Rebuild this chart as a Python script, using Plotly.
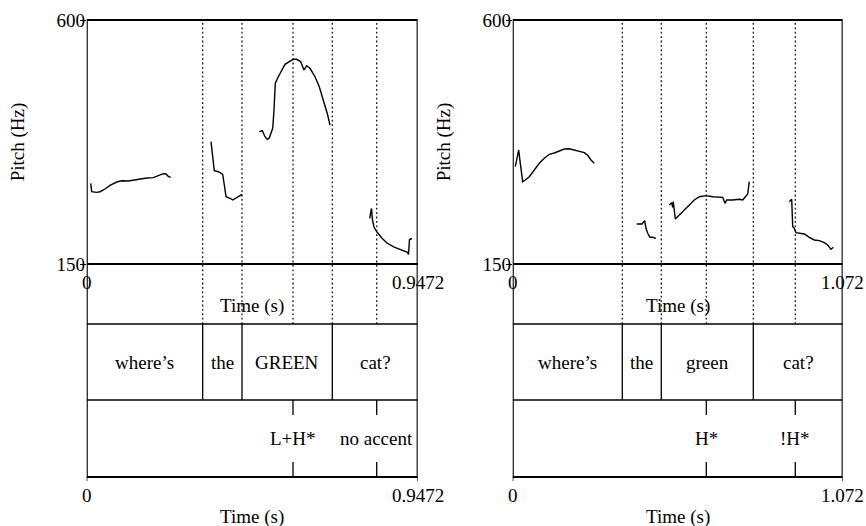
import plotly.graph_objects as go

W, H = 866, 526
FONT = "Liberation Serif"

# ---------------- Left panel (L+H* on GREEN) ----------------
L_duration = 0.9472
L_word_bounds = [0.3319, 0.4444, 0.7028]
L_words = ["where’s", "the", "GREEN", "cat?"]
L_tone_times = [0.5904, 0.8299]
L_tones = ["L+H*", "no accent"]

L1_t = [0.0115, 0.0143, 0.0286, 0.0381, 0.0524, 0.0667, 0.0858, 0.1002, 0.1190, 0.1334,
        0.1525, 0.1717, 0.1906, 0.2049, 0.2192, 0.2269, 0.2335, 0.2404]
L1_f = [298.8, 283.3, 282.2, 283.3, 288.3, 295.1, 301.2, 303.6, 303.1, 304.9,
        307.3, 308.6, 309.2, 312.9, 316.5, 316.0, 311.7, 309.9]
L2_t = [0.3557, 0.3651, 0.3766, 0.3892, 0.3938, 0.3986, 0.4101, 0.4178, 0.4292, 0.4387, 0.4444]
L2_f = [375.6, 322.1, 320.2, 315.4, 295.7, 274.1, 271.2, 268.0, 272.3, 275.4, 278.5]
L3_t = [0.4939, 0.5025, 0.5102, 0.5168, 0.5225, 0.5323, 0.5360, 0.5397, 0.5483, 0.5580,
        0.5675, 0.5798, 0.5912, 0.6009, 0.6124, 0.6218, 0.6296, 0.6390, 0.6533, 0.6656,
        0.6771, 0.6896, 0.6962]
L3_f = [394.0, 395.8, 384.8, 380.0, 382.4, 400.3, 434.0, 483.3, 495.4, 507.8,
        518.3, 523.1, 527.5, 527.5, 523.1, 507.8, 515.7, 510.9, 495.4, 477.0,
        452.5, 424.8, 406.4]
L4_t = [0.8098, 0.8150, 0.8178, 0.8221, 0.8307, 0.8450, 0.8593, 0.8785, 0.8966, 0.9108,
        0.9180, 0.9209, 0.9237, 0.9309]
L4_f = [234.3, 252.4, 231.1, 218.2, 209.0, 197.4, 188.7, 181.4, 177.1, 174.0,
        171.6, 167.5, 195.2, 197.0]

# ---------------- Right panel (H* on green) ----------------
R_duration = 1.072
R_word_bounds = [0.3560, 0.4827, 0.7816]
R_words = ["where’s", "the", "green", "cat?"]
R_tone_times = [0.6289, 0.9180]
R_tones = ["H*", "!H*"]

R1_t = [0.0084, 0.0195, 0.0247, 0.0325, 0.0409, 0.0539, 0.0702, 0.0864, 0.1027, 0.1189,
        0.1351, 0.1514, 0.1676, 0.1839, 0.2001, 0.2164, 0.2326, 0.2436, 0.2544, 0.2651]
R1_f = [329.4, 360.3, 335.7, 301.8, 304.9, 311.0, 323.4, 335.7, 344.9, 352.3,
        354.7, 359.0, 362.1, 362.6, 360.3, 357.1, 355.3, 350.5, 341.8, 335.7]
R2_t = [0.4028, 0.4200, 0.4288, 0.4330, 0.4385, 0.4460, 0.4548, 0.4655]
R2_f = [223.8, 223.8, 229.9, 215.8, 206.6, 199.2, 199.2, 197.4]
R3_t = [0.5087, 0.5165, 0.5198, 0.5217, 0.5282, 0.5412, 0.5574, 0.5737, 0.5899, 0.6062,
        0.6279, 0.6497, 0.6822, 0.6897, 0.6952, 0.7147, 0.7361, 0.7472, 0.7556, 0.7634,
        0.7686]
R3_f = [258.8, 263.1, 254.6, 264.9, 233.0, 240.4, 249.6, 258.8, 268.0, 274.1,
        276.0, 274.1, 273.0, 261.9, 268.0, 268.0, 269.3, 268.0, 274.1, 279.1,
        301.8]
R4_t = [0.8985, 0.9063, 0.9096, 0.9148, 0.9203, 0.9310, 0.9473, 0.9635, 0.9798, 0.9960,
        1.0122, 1.0233, 1.0340, 1.0415]
R4_f = [264.9, 269.3, 218.8, 215.8, 207.7, 206.6, 205.3, 199.2, 194.3, 193.0,
        189.3, 185.0, 177.1, 180.8]

PITCH_MIN, PITCH_MAX = 150, 600
TICK_LABELS_Y = ["150", "600"]


def py(p):
    """window pixel row -> paper fraction"""
    return 1 - p / H


def px(p):
    """window pixel column -> paper fraction"""
    return p / W


fig = go.Figure()
shapes = []
annotations = []

panels = [
    dict(xa="x", ya="y", T=L_duration, T_label="0.9472",
         bounds=L_word_bounds, words=L_words, tt=L_tone_times, tones=L_tones,
         segs=[(L1_t, L1_f), (L2_t, L2_f), (L3_t, L3_f), (L4_t, L4_f)], title_x=18.3),
    dict(xa="x2", ya="y2", T=R_duration, T_label="1.072",
         bounds=R_word_bounds, words=R_words, tt=R_tone_times, tones=R_tones,
         segs=[(R1_t, R1_f), (R2_t, R2_f), (R3_t, R3_f), (R4_t, R4_f)], title_x=444.3),
]

Y_TOP, Y_PITCH_BOT, Y_T1_TOP, Y_T2_TOP, Y_BOT = 20, 264, 324, 400, 477
BLACK = "black"

for p in panels:
    xa, T = p["xa"], p["T"]
    for t, f in p["segs"]:
        fig.add_trace(go.Scatter(x=t, y=f, mode="lines", xaxis=xa, yaxis=p["ya"],
                                 line=dict(color=BLACK, width=1.4), hoverinfo="skip",
                                 showlegend=False))
    xr = xa
    # dotted lines for boundaries and points
    for t in list(p["bounds"]) + list(p["tt"]):
        shapes.append(dict(type="line", xref=xr, yref="paper", x0=t, x1=t,
                           y0=py(Y_T1_TOP), y1=py(Y_TOP),
                           line=dict(color=BLACK, width=1.2, dash="1.8px,2.6px")))
    # interval boundaries in tier 1
    for t in p["bounds"]:
        shapes.append(dict(type="line", xref=xr, yref="paper", x0=t, x1=t,
                           y0=py(Y_T2_TOP), y1=py(Y_T1_TOP),
                           line=dict(color=BLACK, width=1.3)))
    # point ticks in tier 2
    for t in p["tt"]:
        shapes.append(dict(type="line", xref=xr, yref="paper", x0=t, x1=t,
                           y0=py(415), y1=py(Y_T2_TOP), line=dict(color=BLACK, width=1.3)))
        shapes.append(dict(type="line", xref=xr, yref="paper", x0=t, x1=t,
                           y0=py(Y_BOT), y1=py(462), line=dict(color=BLACK, width=1.3)))
    # horizontal lines
    for yy, w in [(Y_PITCH_BOT, 2.2), (Y_T1_TOP, 1.3), (Y_T2_TOP, 1.3)]:
        shapes.append(dict(type="line", xref=xr, yref="paper", x0=0, x1=T,
                           y0=py(yy), y1=py(yy), line=dict(color=BLACK, width=w)))
    # outer box
    shapes.append(dict(type="rect", xref=xr, yref="paper", x0=0, x1=T,
                       y0=py(Y_BOT), y1=py(Y_TOP), line=dict(color=BLACK, width=2.2)))
    # bottom ticks
    for t in [0, T]:
        shapes.append(dict(type="line", xref=xr, yref="paper", x0=t, x1=t,
                           y0=py(481), y1=py(Y_BOT), line=dict(color=BLACK, width=1.3)))
    # words
    edges = [0] + list(p["bounds"]) + [T]
    for i, w in enumerate(p["words"]):
        annotations.append(dict(xref=xr, yref="paper", x=(edges[i] + edges[i + 1]) / 2,
                                y=py(362), text=w, showarrow=False, yanchor="middle"))
    for t, tone in zip(p["tt"], p["tones"]):
        annotations.append(dict(xref=xr, yref="paper", x=t, y=py(438), text=tone,
                                showarrow=False, yanchor="middle"))
    # time tick labels and titles
    for yy in [282, 495]:
        annotations.append(dict(xref=xr, yref="paper", x=0, y=py(yy), text="0",
                                showarrow=False, yanchor="middle"))
        annotations.append(dict(xref=xr, yref="paper", x=T, y=py(yy), text=p["T_label"],
                                showarrow=False, yanchor="middle"))
    for yy in [306, 517]:
        annotations.append(dict(xref=xr, yref="paper", x=T / 2, y=py(yy), text="Time (s)",
                                showarrow=False, yanchor="middle"))
    annotations.append(dict(xref="paper", yref="paper", x=px(p["title_x"]),
                            y=py((Y_TOP + Y_PITCH_BOT) / 2), text="Pitch (Hz)",
                            textangle=-90, showarrow=False, xanchor="center",
                            yanchor="middle"))

axis_common = dict(showgrid=False, zeroline=False, showline=False)
pitch_dom = [py(Y_PITCH_BOT), py(Y_TOP)]
yaxis_common = dict(domain=pitch_dom, range=[PITCH_MIN, PITCH_MAX],
                    tickvals=[PITCH_MIN, PITCH_MAX], ticktext=TICK_LABELS_Y,
                    ticks="outside", ticklen=6, tickwidth=1.3, tickcolor=BLACK,
                    ticklabelstandoff=-9, automargin=False, **axis_common)
fig.update_layout(
    width=W, height=H,
    margin=dict(l=0, r=0, t=0, b=0),
    paper_bgcolor="white", plot_bgcolor="white",
    font=dict(family=FONT, size=19, color=BLACK),
    showlegend=False,
    xaxis=dict(domain=[px(86.7), px(417.7)], range=[0, L_duration], showticklabels=False,
               ticks="", anchor="y", **axis_common),
    xaxis2=dict(domain=[px(512.7), px(842.7)], range=[0, R_duration], showticklabels=False,
                ticks="", anchor="y2", **axis_common),
    yaxis=dict(anchor="x", **yaxis_common),
    yaxis2=dict(anchor="x2", **yaxis_common),
    shapes=shapes,
    annotations=annotations,
)

# remove the browser's default page margin so the figure fills the window exactly
fig.write_html("out.html",
               config={"displayModeBar": False},
               post_script="document.body.style.margin='0';"
                           "document.body.style.overflow='hidden';")
